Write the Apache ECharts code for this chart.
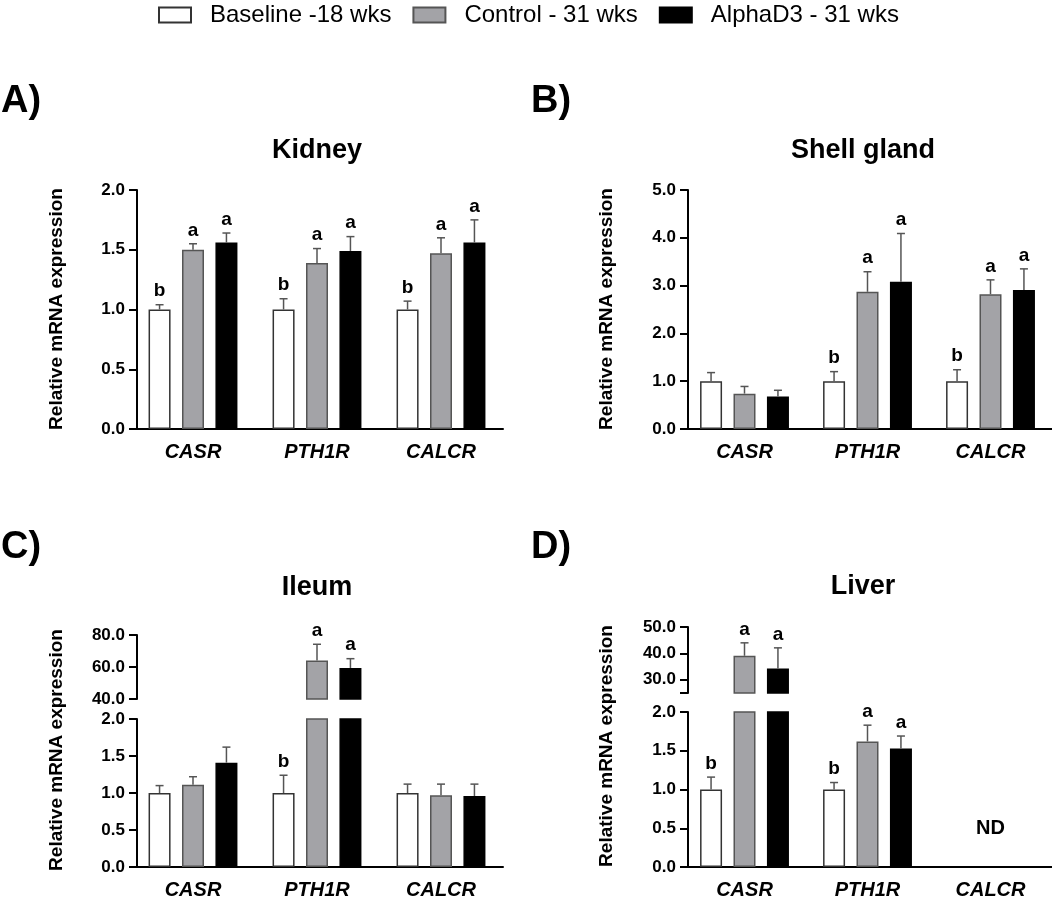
<!DOCTYPE html>
<html>
<head>
<meta charset="utf-8">
<script src="https://cdn.jsdelivr.net/npm/echarts@6/dist/echarts.min.js"></script>
<style>
  html, body { margin: 0; padding: 0; background: #fff; }
  #chart { width: 1052px; height: 900px; }
</style>
</head>
<body>
<div id="chart"></div>
<script>
const genes = ['CASR', 'PTH1R', 'CALCR']
const groups = ['Baseline -18 wks', 'Control - 31 wks', 'AlphaD3 - 31 wks']

// means per group (baseline, control, alphaD3), one value per gene
const kidneyMeans = [[1.0, 1.0, 1.0], [1.5, 1.39, 1.47], [1.56, 1.49, 1.56]]
const kidneySems = [[0.04, 0.09, 0.07], [0.05, 0.12, 0.13], [0.08, 0.12, 0.19]]
const kidneyLetters = [['b', 'b', 'b'], ['a', 'a', 'a'], ['a', 'a', 'a']]

const shellMeans = [[1.0, 1.0, 1.0], [0.74, 2.87, 2.82], [0.68, 3.08, 2.91]]
const shellSems = [[0.18, 0.2, 0.24], [0.15, 0.42, 0.3], [0.13, 1.01, 0.44]]
const shellLetters = [['', 'b', 'b'], ['', 'a', 'a'], ['', 'a', 'a']]

const ileumMeans = [[1.0, 1.0, 1.0], [1.11, 64.0, 0.97], [1.41, 59.4, 0.96]]
const ileumSems = [[0.1, 0.24, 0.12], [0.11, 10.2, 0.15], [0.21, 5.8, 0.16]]
const ileumLetters = [['', 'b', ''], ['', 'a', ''], ['', 'a', '']]

const liverMeans = [[1.0, 1.0, null], [39.1, 1.62, null], [34.3, 1.53, null]]
const liverSems = [[0.16, 0.09, null], [4.9, 0.21, null], [7.8, 0.16, null]]
const liverLetters = [['b', 'b', ''], ['a', 'a', ''], ['a', 'a', '']]
const liverNotDetected = [[2, 0.5]]

const FONT = 'Liberation Sans, Arial, sans-serif'
const BAR_W = 22
const BAR_GAP = 0.52
const spacing = BAR_W * (1 + BAR_GAP)

const barStyles = [
  { color: '#ffffff', borderColor: '#333333', borderWidth: 1.5 },
  { color: '#a3a3a7', borderColor: '#555555', borderWidth: 1.5 },
  { color: '#000000', borderColor: '#000000', borderWidth: 1.5 },
]

const fmt = (v) => v.toFixed(1)

const makeX = (grid, show) => ({
  type: 'category',
  gridIndex: grid,
  data: genes,
  show: show,
  axisLine: { lineStyle: { color: '#000', width: 2 } },
  axisTick: { alignWithLabel: true, length: 8, lineStyle: { color: '#000', width: 2 } },
  axisLabel: {
    color: '#000', fontFamily: FONT, fontSize: 20,
    fontWeight: 'bold', fontStyle: 'italic', margin: 13,
  },
})

const yLabel = { color: '#000', fontFamily: FONT, fontSize: 17, fontWeight: 'bold', margin: 12, formatter: fmt }
const makeY = (grid, extra) => Object.assign({
  type: 'value',
  gridIndex: grid,
  splitLine: { show: false },
  axisLine: { show: true, lineStyle: { color: '#000', width: 2 } },
  axisTick: { show: true, length: 8, lineStyle: { color: '#000', width: 2 } },
  axisLabel: yLabel,
}, extra)

// error bars + significance letters
const errSeries = (axis, points, labels) => ({
  type: 'custom',
  xAxisIndex: axis,
  yAxisIndex: axis,
  silent: true,
  z: 5,
  data: points,
  renderItem: (params, api) => {
    const g = api.value(3)
    const p0 = api.coord([api.value(0), api.value(1)])
    const p1 = api.coord([api.value(0), api.value(2)])
    const x = p0[0] + (g - 1) * spacing
    const st = { stroke: '#555', lineWidth: 1.5 }
    const kids = [
      { type: 'line', shape: { x1: x, y1: p0[1], x2: x, y2: p1[1] }, style: st },
      { type: 'line', shape: { x1: x - 4, y1: p1[1], x2: x + 4, y2: p1[1] }, style: st },
    ]
    const txt = labels[params.dataIndex]
    if (txt) {
      kids.push({
        type: 'text',
        style: {
          x: x, y: p1[1] - 4, text: txt, align: 'center', verticalAlign: 'bottom',
          fill: '#000', font: 'bold 19px ' + FONT,
        },
      })
    }
    return { type: 'group', children: kids }
  },
})

const series = []
const buildPanel = (means, sems, letters, lo, up, breakAt) => {
  const loPts = [], loLab = [], upPts = [], upLab = []
  means.forEach((vals, g) => {
    series.push({
      type: 'bar', name: groups[g], xAxisIndex: lo, yAxisIndex: lo,
      barWidth: BAR_W, barGap: BAR_GAP * 100 + '%',
      itemStyle: barStyles[g], emphasis: { disabled: true },
      data: vals.map((v) => (v == null ? '-' : v)),
    })
    if (up != null) {
      series.push({
        type: 'bar', name: groups[g], xAxisIndex: up, yAxisIndex: up,
        barWidth: BAR_W, barGap: BAR_GAP * 100 + '%',
        itemStyle: barStyles[g], emphasis: { disabled: true },
        data: vals.map((v) => (v != null && v > breakAt ? v : '-')),
      })
    }
    vals.forEach((v, c) => {
      if (v == null) return
      const pt = [c, v, v + sems[g][c], g]
      if (up != null && v > breakAt) {
        upPts.push(pt); upLab.push(letters[g][c])
      } else {
        loPts.push(pt); loLab.push(letters[g][c])
      }
    })
  })
  series.push(errSeries(lo, loPts, loLab))
  if (up != null) series.push(errSeries(up, upPts, upLab))
}

buildPanel(kidneyMeans, kidneySems, kidneyLetters, 0, null)
buildPanel(shellMeans, shellSems, shellLetters, 1, null)
buildPanel(ileumMeans, ileumSems, ileumLetters, 2, 3, 2)
buildPanel(liverMeans, liverSems, liverLetters, 4, 5, 2)

series.push({
  type: 'custom', xAxisIndex: 4, yAxisIndex: 4, silent: true,
  data: liverNotDetected,
  renderItem: (params, api) => {
    const p = api.coord([api.value(0), api.value(1)])
    return {
      type: 'text',
      style: { x: p[0], y: p[1], text: 'ND', align: 'center', verticalAlign: 'middle',
        fill: '#000', font: 'bold 20px ' + FONT },
    }
  },
})

const txt = (x, y, text, size, extra) => Object.assign({
  type: 'text', x: x, y: y,
  style: { text: text, fill: '#000', font: 'bold ' + size + 'px ' + FONT,
    align: 'center', verticalAlign: 'middle' },
}, extra)
const panelTag = (x, y, text) => ({
  type: 'text', x: x, y: y,
  style: { text: text, fill: '#000', font: 'bold 38px ' + FONT, align: 'left', verticalAlign: 'middle' },
})

const yName = 'Relative mRNA expression'

const chart = echarts.init(document.getElementById('chart'), null, { renderer: 'canvas' })
chart.setOption({
  animation: false,
  backgroundColor: '#fff',
  legend: {
    data: groups,
    left: 158, top: 3, padding: 0,
    icon: 'rect', itemWidth: 32, itemHeight: 15, itemGap: 21,
    textStyle: { color: '#000', fontFamily: FONT, fontSize: 24, padding: [0, 0, 0, 14] },
  },
  grid: [
    { left: 131, top: 190, width: 372, height: 239 },
    { left: 683, top: 190, width: 371, height: 239 },
    { left: 131, top: 719, width: 372, height: 149 },
    { left: 131, top: 635, width: 372, height: 64 },
    { left: 683, top: 712, width: 371, height: 155 },
    { left: 683, top: 627, width: 371, height: 66 },
  ],
  xAxis: [makeX(0, true), makeX(1, true), makeX(2, true), makeX(3, false), makeX(4, true), makeX(5, false)],
  yAxis: [
    makeY(0, { min: 0, max: 2, interval: 0.5, offset: -6 }),
    makeY(1, { min: 0, max: 5, interval: 1, offset: -5 }),
    makeY(2, { min: 0, max: 2, interval: 0.5, offset: -6 }),
    makeY(3, { min: 40, max: 80, interval: 20, offset: -6 }),
    makeY(4, { min: 0, max: 2, interval: 0.5, offset: -5 }),
    makeY(5, {
      min: 25, max: 50, offset: -5,
      axisTick: { show: true, length: 8, customValues: [25, 30, 40, 50], lineStyle: { color: '#000', width: 2 } },
      axisLabel: Object.assign({}, yLabel, { customValues: [30, 40, 50] }),
    }),
  ],
  graphic: [
    panelTag(1, 102, 'A)'),
    panelTag(531, 102, 'B)'),
    panelTag(1, 548, 'C)'),
    panelTag(531, 548, 'D)'),
    txt(317, 151, 'Kidney', 27),
    txt(863, 151, 'Shell gland', 27),
    txt(317, 588, 'Ileum', 27),
    txt(863, 587, 'Liver', 27),
    txt(57, 309, yName, 19, { rotation: Math.PI / 2 }),
    txt(607, 309, yName, 19, { rotation: Math.PI / 2 }),
    txt(57, 750, yName, 19, { rotation: Math.PI / 2 }),
    txt(607, 746, yName, 19, { rotation: Math.PI / 2 }),
  ],
  series: series,
})
</script>
</body>
</html>
